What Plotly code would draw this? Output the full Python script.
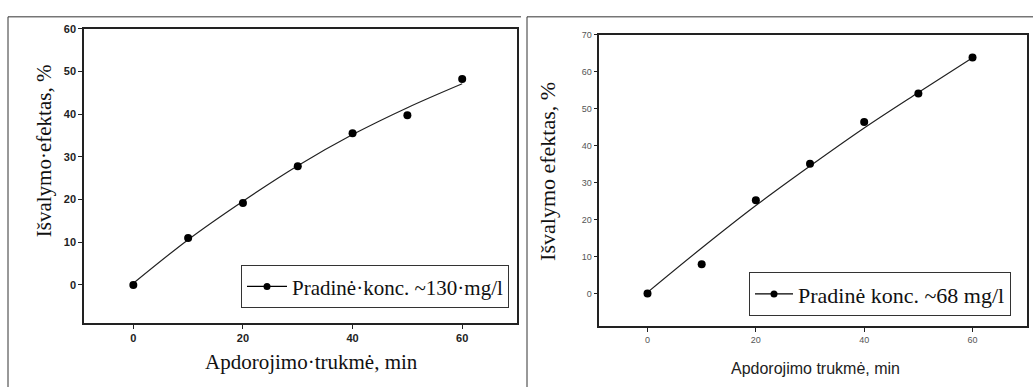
import plotly.graph_objects as go

# Left panel data (initial conc ~130 mg/l)
time_min = [0, 10, 20, 30, 40, 50, 60]
eff_130 = [0.0, 11.0, 19.2, 27.8, 35.5, 39.7, 48.2]
fit_130 = [0.4, 10.6, 19.6, 27.9, 35.2, 41.5, 47.1]

# Right panel data (initial conc ~68 mg/l)
eff_68 = [0.0, 7.9, 25.2, 35.1, 46.4, 54.1, 63.9]
fit_68 = [0.3, 12.3, 23.8, 34.5, 44.8, 54.4, 63.8]

label_130 = "Pradinė·konc. ~130·mg/l"
label_68 = "Pradinė konc. ~68 mg/l"
xtitle_l = "Apdorojimo·trukmė, min"
xtitle_r = "Apdorojimo trukmė, min"
ytitle_l = "Išvalymo·efektas, %"
ytitle_r = "Išvalymo efektas, %"

SERIF = "Liberation Serif, Times New Roman, serif"
SANS = "Liberation Sans, Arial, sans-serif"

W, H = 1033, 387
def px(x): return x / W
def py(y): return 1 - y / H

fig = go.Figure()

# Left
fig.add_trace(go.Scatter(x=time_min, y=fit_130, mode="lines", line=dict(color="#222", width=1.2, shape="spline"),
                         showlegend=False, xaxis="x", yaxis="y"))
fig.add_trace(go.Scatter(x=time_min, y=eff_130, mode="markers", marker=dict(color="black", size=8),
                         showlegend=False, xaxis="x", yaxis="y"))
fig.add_trace(go.Scatter(x=[None], y=[None], mode="lines+markers", name=label_130,
                         line=dict(color="black", width=1.2), marker=dict(color="black", size=7),
                         xaxis="x", yaxis="y", legend="legend"))
# Right
fig.add_trace(go.Scatter(x=time_min, y=fit_68, mode="lines", line=dict(color="#222", width=1.2, shape="spline"),
                         showlegend=False, xaxis="x2", yaxis="y2"))
fig.add_trace(go.Scatter(x=time_min, y=eff_68, mode="markers", marker=dict(color="black", size=8),
                         showlegend=False, xaxis="x2", yaxis="y2"))
fig.add_trace(go.Scatter(x=[None], y=[None], mode="lines+markers", name=label_68,
                         line=dict(color="black", width=1.2), marker=dict(color="black", size=7),
                         xaxis="x2", yaxis="y2", legend="legend2"))

axl = dict(showline=True, linecolor="#222", linewidth=1.5, mirror=True, ticks="outside", ticklen=4,
           tickcolor="#222", showgrid=False, zeroline=False)

def title_ann(text, x, y, family, size, color, angle=0):
    return dict(text=text, x=px(x), y=py(y), xref="paper", yref="paper", xanchor="center", yanchor="middle",
                showarrow=False, textangle=angle, font=dict(family=family, size=size, color=color))

fig.update_layout(
    width=W, height=H, margin=dict(l=0, r=0, t=0, b=0),
    paper_bgcolor="white", plot_bgcolor="white",
    xaxis=dict(axl, domain=[px(84), px(517)], range=[-9, 70], tickvals=[0, 20, 40, 60],
               tickfont=dict(family=SANS, size=11, color="#222", weight="bold"), anchor="y"),
    yaxis=dict(axl, domain=[py(322), py(23)], range=[-8.9, 60], tickvals=[0, 10, 20, 30, 40, 50, 60],
               tickfont=dict(family=SANS, size=11, color="#222", weight="bold"), anchor="x"),
    xaxis2=dict(axl, domain=[px(599.3), px(1026.7)], range=[-8.9, 70], tickvals=[0, 20, 40, 60],
                tickfont=dict(family=SANS, size=9, color="#555"), anchor="y2"),
    yaxis2=dict(axl, domain=[py(325), py(29.3)], range=[-8.8, 70], tickvals=[0, 10, 20, 30, 40, 50, 60, 70],
                tickfont=dict(family=SANS, size=9, color="#555"), anchor="x2"),
    legend=dict(x=px(509), y=py(307), xanchor="right", yanchor="bottom", bgcolor="white",
                bordercolor="#333", borderwidth=1, font=dict(family=SERIF, size=21, color="#111"),
                itemwidth=40),
    legend2=dict(x=px(1011), y=py(315), xanchor="right", yanchor="bottom", bgcolor="white",
                 bordercolor="#333", borderwidth=1, font=dict(family=SERIF, size=22, color="#111"),
                 itemwidth=38),
    annotations=[
        title_ann(xtitle_l, 311, 362, SERIF, 21, "#111"),
        title_ann(ytitle_l, 43.5, 147, SERIF, 21, "#111", -90),
        title_ann(xtitle_r, 815, 368, SANS, 16, "#222"),
        title_ann(ytitle_r, 548, 168.5, SERIF, 22, "#111", -90),
    ],
    shapes=[
        dict(type="line", xref="paper", yref="paper", x0=px(8), x1=px(8), y0=0, y1=py(11), line=dict(color="#333", width=1)),
        dict(type="line", xref="paper", yref="paper", x0=px(8), x1=px(521), y0=py(11), y1=py(11), line=dict(color="#333", width=1)),
        dict(type="line", xref="paper", yref="paper", x0=px(527), x1=px(527), y0=0, y1=py(11), line=dict(color="#333", width=1)),
        dict(type="line", xref="paper", yref="paper", x0=px(527), x1=1, y0=py(11), y1=py(11), line=dict(color="#333", width=1)),
    ],
)

fig.write_html("out.html")
